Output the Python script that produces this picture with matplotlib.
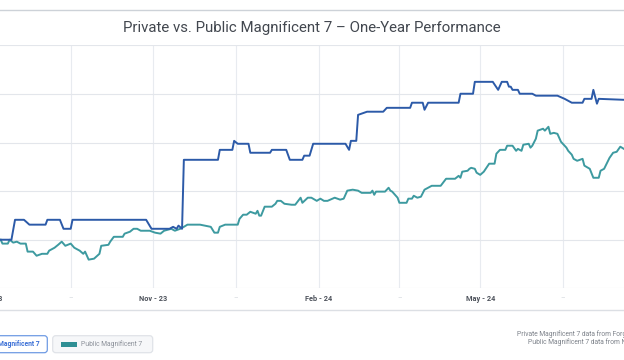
import pandas as pd
import numpy as np
import matplotlib
matplotlib.use('Agg')
import matplotlib.pyplot as plt
import matplotlib.dates as mdates
from matplotlib.patches import FancyBboxPatch, Rectangle
from matplotlib.lines import Line2D

plt.rcParams['font.family'] = ['Roboto', 'DejaVu Sans']

# One-year performance (% change), x = days since 1 Aug 2023
start = pd.Timestamp('2023-08-01')

private_days = [7, 13, 15, 20, 23, 32, 33, 40, 42, 46,
                47, 88, 91, 101, 103, 105, 106, 108, 109, 128,
                129, 136, 137, 139, 145, 146, 157, 158, 166, 168,
                175, 176, 179, 181, 199, 201, 202, 205, 206, 211,
                220, 222, 235, 236, 242, 243, 245, 262, 263, 270,
                271, 281, 284, 286, 289, 290, 291, 292, 295, 296,
                303, 305, 317, 321, 325, 331, 332, 336, 337, 339,
                340, 354]
private_perf = [0, 0, 8.2, 8.2, 6.2, 6.2, 8.2, 8.2, 4.5, 4.5,
                8.2, 8.2, 4.5, 4.5, 5.3, 4.5, 5.8, 4.5, 32.9, 32.9,
                37.0, 37.0, 40.7, 39.5, 39.5, 35.8, 35.8, 37.0, 37.0, 32.9,
                32.9, 34.6, 34.6, 39.5, 39.5, 37.0, 40.7, 40.7, 51.4, 52.7,
                52.7, 54.3, 54.3, 56.4, 56.4, 53.5, 56.4, 56.4, 60.1, 60.1,
                65.0, 65.0, 61.7, 65.0, 65.0, 63.0, 63.0, 61.7, 61.7, 60.1,
                60.1, 59.3, 59.3, 58.0, 56.4, 56.4, 58.0, 58.0, 61.7, 56.0,
                58.0, 57.6]

public_days = [7, 8, 11, 12, 14, 16, 18, 21, 22, 25,
               27, 30, 33, 34, 37, 39, 41, 43, 46, 48,
               51, 53, 54, 56, 59, 62, 63, 67, 68, 70,
               75, 76, 79, 81, 83, 85, 90, 93, 96, 98,
               102, 104, 107, 109, 111, 118, 124, 126, 128, 129,
               132, 139, 140, 142, 144, 146, 149, 150, 151, 152,
               154, 158, 160, 161, 163, 165, 169, 171, 174, 175,
               178, 180, 183, 185, 187, 189, 193, 196, 198, 200,
               203, 206, 208, 213, 214, 215, 216, 221, 223, 224,
               225, 228, 229, 233, 234, 236, 237, 239, 241, 243,
               245, 247, 252, 255, 260, 262, 263, 264, 267, 268,
               269, 271, 272, 274, 276, 279, 282, 283, 285, 288,
               289, 292, 294, 295, 297, 298, 301, 302, 303, 305,
               306, 309, 310, 312, 313, 315, 317, 319, 322, 323,
               325, 326, 328, 331, 332, 335, 337, 340, 341, 343,
               346, 348, 350, 352, 354]
public_perf = [0, -1.6, -1.6, 0, -1.2, -0.8, -1.6, -1.6, -4.9, -4.9,
               -6.6, -5.8, -5.8, -4.5, -3.3, -2.1, -0.8, -2.5, -1.6, -3.3,
               -4.5, -5.8, -4.9, -8.2, -7.8, -5.8, -2.5, -2.1, -0.8, 1.2,
               1.2, 2.5, 3.3, 4.5, 4.5, 3.7, 3.7, 2.9, 2.5, 3.7,
               4.5, 3.7, 4.5, 5.3, 6.2, 6.2, 5.3, 2.9, 2.9, 5.3,
               6.2, 6.2, 8.6, 10.3, 10.3, 11.5, 10.7, 11.9, 9.9, 9.9,
               13.6, 13.6, 14.8, 16.0, 16.0, 14.8, 14.4, 14.4, 17.3, 15.2,
               17.3, 17.3, 16.0, 16.9, 16.0, 16.0, 17.3, 16.5, 16.9, 20.2,
               20.6, 20.2, 19.3, 19.3, 20.2, 18.5, 19.8, 19.8, 21.4, 20.2,
               19.8, 17.3, 15.2, 15.2, 16.9, 16.9, 18.1, 17.3, 17.7, 20.6,
               21.4, 22.2, 22.2, 25.1, 25.1, 26.3, 25.5, 28.0, 28.4, 29.2,
               29.6, 29.2, 27.6, 26.7, 28.0, 31.3, 31.3, 35.4, 37.0, 37.0,
               38.7, 38.7, 36.6, 37.4, 36.6, 39.1, 39.5, 37.9, 38.7, 41.6,
               44.9, 45.7, 44.9, 46.5, 43.6, 44.0, 43.6, 40.3, 37.9, 36.6,
               35.0, 33.3, 32.5, 33.3, 30.5, 29.2, 25.5, 25.5, 28.4, 29.2,
               33.7, 35.8, 36.2, 38.3, 37.4]

major_ticks = ['2023-08-01', '2023-11-01', '2024-02-01', '2024-05-01']
minor_ticks = ['2023-09-16', '2023-12-17', '2024-03-17', '2024-06-16']
y_grid = [-20, 0, 20, 40, 60, 80]

priv_dates = start + pd.to_timedelta(private_days, unit='D')
pub_dates = start + pd.to_timedelta(public_days, unit='D')

W, H = 624, 360
fig = plt.figure(figsize=(W / 100, H / 100), dpi=100)
fig.patch.set_facecolor('white')

# main axes runs a little past the figure edges (the screenshot is cropped)
ax = fig.add_axes([-20 / W, 1 - 288.3 / H, 664 / W, (288.3 - 45.4) / H])
ax.plot(pub_dates, public_perf, color='#3d9aa0', lw=1.4, zorder=3)
ax.plot(priv_dates, private_perf, color='#2c5aa8', lw=1.4, zorder=4)

x0 = mdates.date2num(start - pd.Timedelta(days=4.5))
x1 = mdates.date2num(start + pd.Timedelta(days=365.2))
ax.set_xlim(x0, x1)
ax.set_ylim(-20, 80)

ax.set_xticks(mdates.date2num(pd.to_datetime(major_ticks)))
ax.set_xticks(mdates.date2num(pd.to_datetime(minor_ticks)), minor=True)
ax.xaxis.set_major_formatter(mdates.DateFormatter('%b - %y'))
ax.set_xticklabels(['–'] * len(minor_ticks), minor=True)
ax.set_yticks(y_grid)
ax.set_yticklabels([])

ax.grid(True, which='both', axis='x', color='#e8ebf0', lw=0.8)
ax.grid(True, axis='y', color='#e3e6eb', lw=0.8)
ax.set_axisbelow(True)
for s in ax.spines.values():
    s.set_visible(False)
ax.tick_params(axis='both', which='both', length=0)
ax.tick_params(axis='x', which='major', pad=5, labelsize=5.3, labelcolor='#4d525b')
ax.tick_params(axis='x', which='minor', pad=5, labelsize=5, labelcolor='#cfd3d9')
for lab in ax.get_xticklabels():
    lab.set_fontweight('bold')

# overlay in pixel coords for the card decorations
ov = fig.add_axes([0, 0, 1, 1], zorder=5)
ov.set_xlim(0, W)
ov.set_ylim(H, 0)
ov.axis('off')

ov.add_line(Line2D([0, W], [10, 10], color='#cdd2d8', lw=1))
ov.add_line(Line2D([0, W], [310, 310], color='#dcdfe4', lw=1))

ov.text(W / 2, 28, 'Private vs. Public Magnificent 7 – One-Year Performance',
        ha='center', va='center', fontsize=10.8, color='#42474f')

# legend buttons
ov.add_patch(FancyBboxPatch((-30, 335.7), 77.3, 17, boxstyle='round,pad=0,rounding_size=3',
                            fc='white', ec='#6f9be4', lw=0.9))
ov.text(39.3, 344.4, 'Private Magnificent 7', ha='right', va='center',
        fontsize=4.9, color='#3a6fd6', fontweight='bold')
ov.add_patch(FancyBboxPatch((52.7, 335.7), 100, 17, boxstyle='round,pad=0,rounding_size=3',
                            fc='#f6f7f9', ec='#e0e3e8', lw=0.9))
ov.add_patch(Rectangle((60.7, 342.3), 16, 4.4, fc='#2f8f94', ec='none'))
ov.text(81, 344.6, 'Public Magnificent 7', ha='left', va='center',
        fontsize=4.9, color='#8b9099')

ov.text(516.7, 334.5, 'Private Magnificent 7 data from Forge Global', ha='left', va='center',
        fontsize=4.9, color='#7d828a')
ov.text(528.3, 342, 'Public Magnificent 7 data from Nasdaq', ha='left', va='center',
        fontsize=4.9, color='#7d828a')

fig.savefig('out.png', dpi=100)
